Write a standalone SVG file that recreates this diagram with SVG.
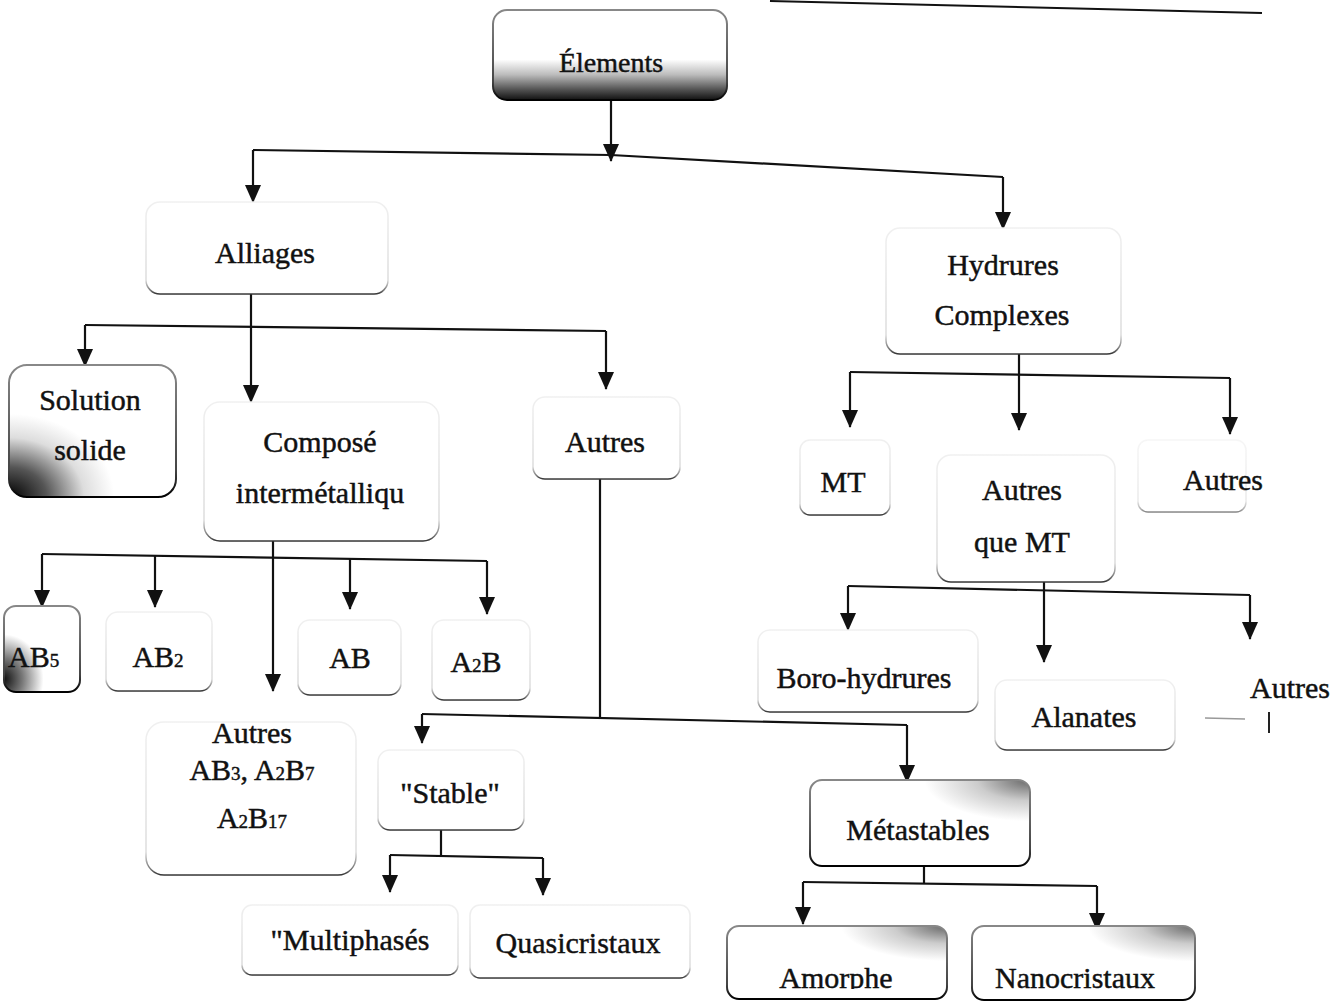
<svg xmlns="http://www.w3.org/2000/svg" width="1343" height="1003" viewBox="0 0 1343 1003">
<style>
.box{fill:#fff;stroke:url(#edge);stroke-width:1.5}
.dark{stroke:url(#edgeDark);stroke-width:2}
.t{font-family:"Liberation Serif","Times New Roman",serif;font-size:30px;fill:#111;stroke:#111;stroke-width:0.45;text-anchor:middle}
.sub{font-size:19px}
.conn path{fill:none;stroke:#111;stroke-width:2.2}
.conn path.a{marker-end:url(#arr)}
</style>
<defs>
<marker id="arr" viewBox="0 0 18 16" refX="17" refY="8" markerWidth="18" markerHeight="16" markerUnits="userSpaceOnUse" orient="auto">
<path d="M0,0 L18,8 L0,16 Z" fill="#111"/>
</marker>
<linearGradient id="edge" x1="0" y1="0" x2="0" y2="1">
<stop offset="0" stop-color="#f0f0f0"/>
<stop offset="0.85" stop-color="#dcdcdc"/>
<stop offset="0.96" stop-color="#777"/>
<stop offset="1" stop-color="#333"/>
</linearGradient>
<linearGradient id="edgeDark" x1="0" y1="0" x2="0" y2="1">
<stop offset="0" stop-color="#888"/>
<stop offset="0.8" stop-color="#444"/>
<stop offset="1" stop-color="#000"/>
</linearGradient>
<linearGradient id="fillBottom" x1="0" y1="0" x2="0" y2="1">
<stop offset="0" stop-color="#fff"/>
<stop offset="0.55" stop-color="#fff"/>
<stop offset="0.72" stop-color="#bbb"/>
<stop offset="0.88" stop-color="#555"/>
<stop offset="1" stop-color="#111"/>
</linearGradient>
<radialGradient id="fillBL" cx="0" cy="1" r="0.9">
<stop offset="0" stop-color="#000"/>
<stop offset="0.25" stop-color="#555"/>
<stop offset="0.5" stop-color="#ddd"/>
<stop offset="0.7" stop-color="#fff"/>
</radialGradient>
<radialGradient id="fillL" cx="0" cy="0.85" r="0.8">
<stop offset="0" stop-color="#111"/>
<stop offset="0.3" stop-color="#777"/>
<stop offset="0.65" stop-color="#fff"/>
</radialGradient>
<radialGradient id="fillTR" cx="1" cy="0" r="0.6">
<stop offset="0" stop-color="#666"/>
<stop offset="0.4" stop-color="#ccc"/>
<stop offset="0.8" stop-color="#fff"/>
</radialGradient>
<clipPath id="clipAm"><rect x="720" y="920" width="240" height="69"/></clipPath>
</defs>
<rect width="1343" height="1003" fill="#fff"/>

<path d="M770,1 L1262,13" fill="none" stroke="#111" stroke-width="2"/>

<g class="conn" id="connectors">
<path class="a" d="M611,100 V161"/>
<path d="M253,150 L611,155 L1003,177"/>
<path class="a" d="M253,150 V202"/>
<path class="a" d="M1003,177 V229"/>
<path class="a" d="M251,294 V402"/>
<path d="M85,325 L606,331"/>
<path class="a" d="M85,325 V366"/>
<path class="a" d="M606,331 V389"/>
<path class="a" d="M273,541 V691"/>
<path d="M42,554 L487,561"/>
<path class="a" d="M42,554 V607"/>
<path class="a" d="M155,556 V607"/>
<path class="a" d="M350,559 V609"/>
<path class="a" d="M487,561 V614"/>
<path d="M600,479 V717"/>
<path d="M422,714 L907,725"/>
<path class="a" d="M422,714 V743"/>
<path class="a" d="M907,725 V782"/>
<path d="M441,830 V856"/>
<path d="M390,855 L543,858"/>
<path class="a" d="M390,855 V892"/>
<path class="a" d="M543,858 V895"/>
<path d="M924,866 V884"/>
<path d="M803,882 L1097,886"/>
<path class="a" d="M803,882 V924"/>
<path class="a" d="M1097,886 V930"/>
<path class="a" d="M1019,354 V430"/>
<path d="M850,372 L1230,378"/>
<path class="a" d="M850,372 V427"/>
<path class="a" d="M1230,378 V434"/>
<path class="a" d="M1044,582 V662"/>
<path d="M848,586 L1250,595"/>
<path class="a" d="M848,586 V630"/>
<path class="a" d="M1250,595 V639"/>
</g>

<g id="elements"><rect x="493" y="10" width="234" height="90" rx="14" fill="url(#fillBottom)" class="dark"/><text class="t" x="611" y="72" style="font-size:28px">Élements</text></g>
<g id="alliages"><rect class="box" x="146" y="202" width="242" height="92" rx="14"/><text class="t" x="265" y="263">Alliages</text></g>
<g id="hydrures"><rect class="box" x="886" y="228" width="235" height="126" rx="14"/><text class="t" x="1003" y="275">Hydrures</text><text class="t" x="1002" y="325">Complexes</text></g>
<g id="solution"><rect x="9" y="365" width="167" height="132" rx="18" fill="url(#fillBL)" class="dark"/><text class="t" x="90" y="410">Solution</text><text class="t" x="90" y="460">solide</text></g>
<g id="compose"><rect class="box" x="204" y="402" width="235" height="139" rx="16"/><text class="t" x="320" y="452">Composé</text><text class="t" x="320" y="503">intermétalliqu</text></g>
<g id="autres-alliages"><rect class="box" x="533" y="397" width="147" height="82" rx="12"/><text class="t" x="605" y="452">Autres</text></g>
<g id="mt"><rect class="box" x="800" y="440" width="90" height="75" rx="10"/><text class="t" x="843" y="492">MT</text></g>
<g id="autres-que-mt"><rect class="box" x="937" y="455" width="178" height="127" rx="14"/><text class="t" x="1022" y="500">Autres</text><text class="t" x="1022" y="552">que MT</text></g>
<g id="autres-hydrures"><rect class="box" x="1138" y="440" width="108" height="72" rx="10" style="stroke-opacity:0.6"/><text class="t" x="1223" y="490">Autres</text></g>
<g id="ab5"><rect x="4" y="606" width="76" height="86" rx="12" fill="url(#fillL)" class="dark"/><text class="t" x="8" y="667" style="text-anchor:start">AB<tspan class="sub">5</tspan></text></g>
<g id="ab2"><rect class="box" x="106" y="612" width="106" height="79" rx="12"/><text class="t" x="158" y="667">AB<tspan class="sub">2</tspan></text></g>
<g id="ab"><rect class="box" x="298" y="620" width="103" height="75" rx="12"/><text class="t" x="350" y="668">AB</text></g>
<g id="a2b"><rect class="box" x="432" y="620" width="98" height="80" rx="12"/><text class="t" x="476" y="672">A<tspan class="sub">2</tspan>B</text></g>
<g id="autres-ab3"><rect class="box" x="146" y="722" width="210" height="153" rx="18"/><text class="t" x="252" y="743">Autres</text><text class="t" x="252" y="780">AB<tspan class="sub">3</tspan>, A<tspan class="sub">2</tspan>B<tspan class="sub">7</tspan></text><text class="t" x="252" y="828">A<tspan class="sub">2</tspan>B<tspan class="sub">17</tspan></text></g>
<g id="boro"><rect class="box" x="758" y="630" width="220" height="82" rx="12"/><text class="t" x="864" y="688">Boro-hydrures</text></g>
<g id="alanates"><rect class="box" x="995" y="680" width="180" height="70" rx="12"/><text class="t" x="1084" y="727">Alanates</text></g>
<g id="autres-far"><path d="M1205,718 L1245,719" stroke="#999" stroke-width="1.5" fill="none"/><path d="M1269,712 V733" stroke="#222" stroke-width="2" fill="none"/><text class="t" x="1290" y="698">Autres</text></g>
<g id="stable"><rect class="box" x="378" y="750" width="146" height="80" rx="12"/><text class="t" x="450" y="803">"Stable"</text></g>
<g id="metastables"><rect x="810" y="780" width="220" height="86" rx="12" fill="url(#fillTR)" class="dark"/><text class="t" x="918" y="840">Métastables</text></g>
<g id="multiphases"><rect class="box" x="242" y="905" width="216" height="70" rx="10"/><text class="t" x="350" y="950">"Multiphasés</text></g>
<g id="quasicristaux"><rect class="box" x="470" y="905" width="220" height="73" rx="10"/><text class="t" x="578" y="953">Quasicristaux</text></g>
<g id="amorphe"><rect x="727" y="926" width="220" height="73" rx="12" fill="url(#fillTR)" class="dark"/><text class="t" x="836" y="988" clip-path="url(#clipAm)">Amorphe</text></g>
<g id="nanocristaux"><rect x="972" y="926" width="223" height="74" rx="12" fill="url(#fillTR)" class="dark"/><text class="t" x="1075" y="988">Nanocristaux</text></g>
</svg>
